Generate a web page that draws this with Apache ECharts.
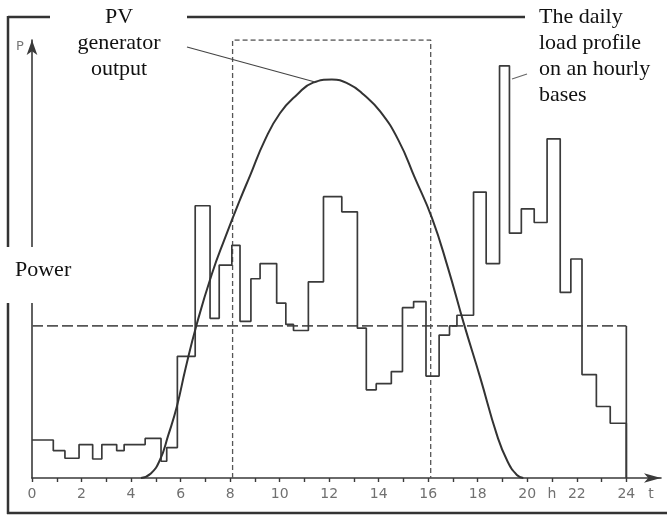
<!DOCTYPE html>
<html>
<head>
<meta charset="utf-8">
<script src="https://cdn.jsdelivr.net/npm/echarts@6/dist/echarts.min.js"></script>
<style>
  html, body { margin: 0; padding: 0; background: #fff; }
  #chart { width: 667px; height: 516px; }
</style>
</head>
<body>
<div id="chart"></div>
<script>
// power in % of the mean daily load, time in hours

// load profile: hour where each step starts, and its level
var stepStart = [0, 0.86, 1.33, 1.9, 2.45, 2.82, 3.42, 3.72, 4.57, 5.21, 5.44, 5.87,
    6.59, 7.19, 7.56, 8.07, 8.4, 8.84, 9.21, 9.88, 10.25, 10.56, 11.16, 11.77,
    12.51, 13.14, 13.5, 13.9, 14.51, 14.96, 15.41, 15.91, 16.44, 16.86, 17.16, 17.83,
    18.34, 18.88, 19.28, 19.76, 20.28, 20.8, 21.33, 21.76, 22.21, 22.79, 23.35];
var stepLoad = [25, 18, 13, 22, 12.5, 22, 18, 22, 26, 11, 20, 80,
    179, 105, 140, 153, 103, 131, 141, 115, 101, 97, 129, 185,
    175, 98.5, 58, 62, 70, 112, 116, 67, 94, 100, 107, 188,
    141, 271, 161, 177, 168, 223, 122, 144, 68, 47, 36];
var dayEnd = 24;

// PV generator output
var pvHour = [4.4, 4.8, 5.17, 5.5, 5.85, 6.2, 6.65, 7.26, 7.8, 8.4, 8.81, 9.4,
    10.02, 10.7, 11.35, 12.11, 12.8, 13.4, 14.06, 14.8, 15.47, 16.15, 16.8,
    17.43, 18.1, 18.78, 19.2, 19.58, 19.84];
var pvPower = [0, 3, 12, 28, 47, 72, 101, 134, 158, 183, 199, 222,
    240, 252, 260, 262, 259, 252, 241, 222, 197, 171, 138,
    102, 66, 28, 11, 2, 0];

var meanLoad = 100;
var windowHours = [8.1, 16.1];
var windowTop = 288;

var xTicks = [0, 1, 2, 3, 4, 5, 6, 7, 8, 9, 10, 11, 12, 13, 14, 15, 16, 17, 18, 19, 20, 21, 22, 23, 24];
var xLabels = [0, 2, 4, 6, 8, 10, 12, 14, 16, 18, 20, 21, 22, 24, 25];

var loadData = [];
for (var i = 0; i < stepStart.length; i++) {
    loadData.push([stepStart[i], stepLoad[i]]);
}
loadData.push([dayEnd, stepLoad[stepLoad.length - 1]]);
loadData.push([dayEnd, 0]);

var pvData = [];
for (var j = 0; j < pvHour.length; j++) {
    pvData.push([pvHour[j], pvPower[j]]);
}

var chart = echarts.init(document.getElementById('chart'));
var ink = '#3a3a3a';
var serif = '"Liberation Serif", "Times New Roman", serif';

var option = {
    backgroundColor: '#fff',
    animation: false,
    grid: { left: 32, right: 6, top: 40, bottom: 38 },
    xAxis: {
        type: 'value',
        min: 0,
        max: 25.4,
        splitLine: { show: false },
        axisLine: {
            lineStyle: { color: ink, width: 1.6 },
            symbol: ['none', 'arrow'],
            symbolSize: [7, 17]
        },
        axisTick: {
            customValues: xTicks,
            length: 4,
            lineStyle: { color: ink, width: 1.4 }
        },
        axisLabel: {
            customValues: xLabels,
            margin: 9,
            color: '#707070',
            fontSize: 14,
            fontFamily: '"DejaVu Sans", sans-serif',
            formatter: function (v) {
                if (v === 21) return 'h';
                if (v === 25) return 't';
                return String(v);
            }
        }
    },
    yAxis: {
        type: 'value',
        min: 0,
        max: 288,
        splitLine: { show: false },
        axisTick: { show: false },
        axisLabel: { show: false },
        axisLine: {
            show: true,
            lineStyle: { color: ink, width: 1.6 },
            symbol: ['none', 'arrow'],
            symbolSize: [8, 15]
        }
    },
    series: [
        {
            name: 'load',
            type: 'line',
            step: 'end',
            symbol: 'none',
            data: loadData,
            lineStyle: { color: ink, width: 1.7 },
            z: 3
        },
        {
            name: 'pv',
            type: 'line',
            smooth: 0.5,
            symbol: 'none',
            data: pvData,
            lineStyle: { color: '#333', width: 2 },
            z: 4
        },
        {
            name: 'mean',
            type: 'line',
            symbol: 'none',
            data: [[0, meanLoad], [dayEnd, meanLoad]],
            lineStyle: { color: '#555', width: 1.6, type: [11, 4] },
            z: 2
        },
        {
            name: 'meanEdge',
            type: 'line',
            symbol: 'none',
            data: [[dayEnd, meanLoad], [dayEnd, 0]],
            lineStyle: { color: ink, width: 1.7 },
            z: 2
        },
        {
            name: 'window',
            type: 'line',
            symbol: 'none',
            data: [[windowHours[0], 0], [windowHours[0], windowTop],
                   [windowHours[1], windowTop], [windowHours[1], 0]],
            lineStyle: { color: '#555', width: 1.3, type: [5, 3] },
            z: 2
        }
    ],
    graphic: [
        // frame
        { type: 'line', z: 50, shape: { x1: 8, y1: 17, x2: 50, y2: 17 }, style: { stroke: '#333', lineWidth: 2.5 } },
        { type: 'line', z: 50, shape: { x1: 187, y1: 17, x2: 525, y2: 17 }, style: { stroke: '#333', lineWidth: 2.5 } },
        { type: 'line', z: 50, shape: { x1: 8, y1: 16, x2: 8, y2: 514 }, style: { stroke: '#333', lineWidth: 2.5 } },
        { type: 'line', z: 50, shape: { x1: 7, y1: 513, x2: 667, y2: 513 }, style: { stroke: '#333', lineWidth: 2.5 } },
        // box behind "Power"
        { type: 'rect', z: 60, shape: { x: 0, y: 247, width: 100, height: 56 }, style: { fill: '#fff' } },
        { type: 'text', z: 70, style: { text: 'Power', x: 15, y: 270, font: '22px ' + serif, fill: '#111', textVerticalAlign: 'middle' } },
        { type: 'text', z: 70, style: { text: 'P', x: 20, y: 47, font: '13px "DejaVu Sans", sans-serif', fill: '#777', textAlign: 'center', textVerticalAlign: 'middle' } },
        // annotations
        { type: 'text', z: 70, style: { text: 'PV\ngenerator\noutput', x: 119, y: 4, font: '22px ' + serif, lineHeight: 26, fill: '#111', textAlign: 'center', textVerticalAlign: 'top' } },
        { type: 'line', z: 70, shape: { x1: 187, y1: 47, x2: 315, y2: 82 }, style: { stroke: '#444', lineWidth: 1.2 } },
        { type: 'text', z: 70, style: { text: 'The daily\nload profile\non an hourly\nbases', x: 539, y: 4, font: '22px ' + serif, lineHeight: 26, fill: '#111', textAlign: 'left', textVerticalAlign: 'top' } },
        { type: 'line', z: 70, shape: { x1: 527, y1: 74, x2: 512, y2: 79 }, style: { stroke: '#666', lineWidth: 1.2 } }
    ]
};

chart.setOption(option);
</script>
</body>
</html>
